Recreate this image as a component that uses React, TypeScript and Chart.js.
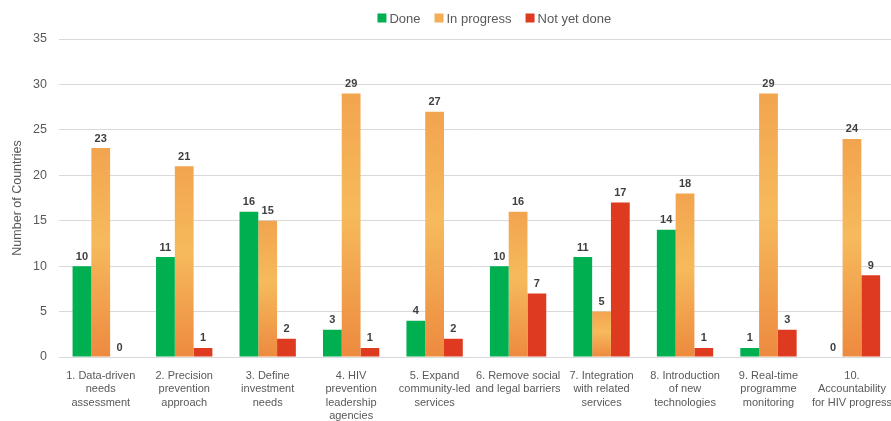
import React, { useEffect, useRef } from "react";
import { Chart, registerables } from "chart.js";

Chart.register(...registerables);

const categories: string[][] = [
  ["1. Data-driven", "needs", "assessment"],
  ["2. Precision", "prevention", "approach"],
  ["3. Define", "investment", "needs"],
  ["4. HIV", "prevention", "leadership", "agencies"],
  ["5. Expand", "community-led", "services"],
  ["6. Remove social", "and legal barriers"],
  ["7. Integration", "with related", "services"],
  ["8. Introduction", "of new", "technologies"],
  ["9. Real-time", "programme", "monitoring"],
  ["10.", "Accountability", "for HIV progress"],
];

const done = [10, 11, 16, 3, 4, 10, 11, 14, 1, 0];
const inProgress = [23, 21, 15, 29, 27, 16, 5, 18, 29, 24];
const notYetDone = [0, 1, 2, 1, 2, 7, 17, 1, 3, 9];

const seriesNames = ["Done", "In progress", "Not yet done"];
const yTicks = { min: 0, max: 35, step: 5 };

const GREEN = "#00B050";
const RED = "#DE3A1F";
const ORANGE_SWATCH = "#F4AE55";
const FONT = "'Liberation Sans', Arial, sans-serif";
const TEXT = "#595959";

export default function App() {
  const ref = useRef<HTMLCanvasElement | null>(null);

  useEffect(() => {
    if (!ref.current) return;

    const orangeGradient = (c: any) => {
      const chart = c.chart;
      if (c.type !== "data" || !chart.chartArea || !chart.scales.y) return ORANGE_SWATCH;
      const y = chart.scales.y;
      const top = y.getPixelForValue(c.raw);
      const base = y.getPixelForValue(0);
      if (base - top < 1) return ORANGE_SWATCH;
      const g = chart.ctx.createLinearGradient(0, top, 0, base);
      g.addColorStop(0, "#F2A44E");
      g.addColorStop(0.45, "#F6BA5C");
      g.addColorStop(1, "#ED8A3F");
      return g;
    };

    const valueLabels = {
      id: "valueLabels",
      afterDatasetsDraw(chart: any) {
        const ctx = chart.ctx;
        ctx.save();
        ctx.font = `bold 11px ${FONT}`;
        ctx.fillStyle = "#404040";
        ctx.textAlign = "center";
        ctx.textBaseline = "bottom";
        chart.data.datasets.forEach((ds: any, i: number) => {
          const meta = chart.getDatasetMeta(i);
          meta.data.forEach((el: any, j: number) => {
            ctx.fillText(String(ds.data[j]), el.x, el.y - 4);
          });
        });
        ctx.restore();
      },
    };

    const customLegend = {
      id: "customLegend",
      afterDraw(chart: any) {
        const ctx = chart.ctx;
        const area = chart.chartArea;
        ctx.save();
        ctx.font = `13px ${FONT}`;
        const box = 9;
        const gapText = 3;
        const gapItem = 14;
        const items = chart.data.datasets.map((ds: any, i: number) => ({
          label: ds.label,
          color: i === 1 ? ORANGE_SWATCH : ds.backgroundColor,
          w: box + gapText + ctx.measureText(ds.label).width,
        }));
        const total = items.reduce((s: number, it: any) => s + it.w, 0) + gapItem * (items.length - 1);
        let x = (area.left + area.right) / 2 + 18 - total / 2;
        const yc = 18;
        items.forEach((it: any) => {
          ctx.fillStyle = it.color;
          ctx.fillRect(x, yc - box / 2, box, box);
          ctx.fillStyle = TEXT;
          ctx.textAlign = "left";
          ctx.textBaseline = "middle";
          ctx.fillText(it.label, x + box + gapText, yc + 1);
          x += it.w + gapItem;
        });
        ctx.restore();
      },
    };

    const chart = new Chart(ref.current, {
      type: "bar",
      data: {
        labels: categories,
        datasets: [
          { label: seriesNames[0], data: done, backgroundColor: GREEN },
          { label: seriesNames[1], data: inProgress, backgroundColor: orangeGradient as any },
          { label: seriesNames[2], data: notYetDone, backgroundColor: RED },
        ],
      },
      options: {
        animation: false,
        responsive: false,
        maintainAspectRatio: false,
        layout: { padding: { top: 39, right: 0, left: 0, bottom: 0 } },
        datasets: { bar: { categoryPercentage: 0.675, barPercentage: 1 } },
        plugins: {
          legend: { display: false },
          tooltip: { enabled: false },
        },
        scales: {
          x: {
            grid: { display: false },
            border: { display: false },
            ticks: {
              color: TEXT,
              font: { family: FONT, size: 11, lineHeight: 1.23 },
              maxRotation: 0,
              autoSkip: false,
              padding: 4,
            },
            afterFit: (s: any) => {
              s.height = 64;
            },
          },
          y: {
            min: yTicks.min,
            max: yTicks.max,
            ticks: {
              stepSize: yTicks.step,
              color: TEXT,
              font: { family: FONT, size: 12.5 },
              padding: 12,
            },
            grid: { color: "#D9D9D9", lineWidth: 1, drawTicks: false },
            border: { display: false },
            title: {
              display: true,
              text: "Number of Countries",
              color: TEXT,
              font: { family: FONT, size: 12.5 },
              padding: { top: 10, bottom: 0 },
            },
            afterFit: (s: any) => {
              s.width = 59;
            },
          },
        },
      },
      plugins: [valueLabels, customLegend],
    });

    return () => chart.destroy();
  }, []);

  return (
    <div style={{ position: "fixed", left: 0, top: 0, width: 891, height: 421, overflow: "hidden", background: "#fff" }}>
      <canvas ref={ref} width={896} height={421} style={{ display: "block", width: 896, height: 421 }} />
    </div>
  );
}
